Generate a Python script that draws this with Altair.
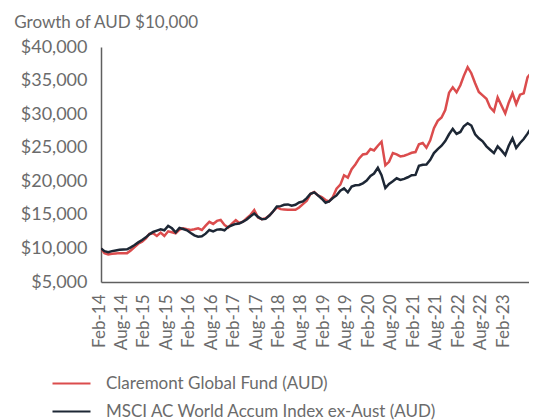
import altair as alt
import pandas as pd

series_names = ["Claremont Global Fund (AUD)", "MSCI AC World Accum Index ex-Aust (AUD)"]

claremont = [
    10000, 9300, 9100, 9200, 9250, 9300, 9300, 9300, 9700, 10200,
    10700, 11000, 11500, 12150, 12250, 11850, 12350, 11850, 12550, 12400,
    12250, 12800, 13000, 12850, 12750, 12850, 13000, 12750, 13400, 13950,
    13650, 14100, 14250, 13500, 13100, 13700, 14200, 13800, 14000, 14500,
    15000, 15700, 14600, 14350, 14500, 14900, 15500, 16100, 15850, 15800,
    15750, 15750, 15750, 16100, 16600, 17100, 18100, 18400, 17900, 17650,
    17200, 17000, 17650, 18900, 19500, 20900, 20550, 21800, 22500, 23400,
    24000, 24100, 24800, 24600, 25300, 25900, 22400, 22900, 24200, 24000,
    23700, 23800, 24000, 24250, 24350, 25500, 25700, 25000, 26100, 27900,
    29000, 29500, 30600, 33200, 34000, 33250, 34300, 35700, 37000, 36100,
    34600, 33300, 32800, 32300, 31000, 30400, 32500, 31300, 30100, 31700,
    33100, 31500, 32900, 33100, 35500, 36200, 37100,
]

msci = [
    10000, 9600, 9450, 9600, 9700, 9800, 9850, 9870, 10150, 10500,
    10900, 11250, 11650, 12100, 12450, 12650, 12850, 12700, 13350, 13000,
    12400, 13050, 12900, 12700, 12300, 11950, 11750, 11800, 12200, 12750,
    12550, 12800, 12850, 12700, 13200, 13450, 13650, 13700, 14000, 14300,
    14800, 15200, 14700, 14350, 14400, 14900, 15500, 16250, 16300, 16500,
    16550, 16350, 16500, 16850, 17000, 17500, 18150, 18350, 17900, 17400,
    16800, 17000, 17500, 17900, 18600, 18950, 18350, 19200, 19400, 19450,
    19700, 20100, 20800, 21150, 22000, 20900, 19000, 19600, 20000, 20450,
    20200, 20350, 20600, 20900, 20950, 22300, 22450, 22500, 23200, 24200,
    24800, 25300, 26000, 27000, 27800, 27050, 27350, 28200, 28650, 28300,
    27000, 26400, 25950, 25200, 24700, 24200, 25200, 24600, 23900, 25300,
    26400, 24950, 25700, 26300, 27100, 28000, 28700,
]

dates = pd.date_range("2014-02-01", periods=len(msci), freq="MS")
tick_dates = [d for d in dates if d.month in (2, 8) and d <= pd.Timestamp("2023-02-01")]
tick_ms = [int(d.value // 10**6) for d in tick_dates]
y_ticks = [5000, 10000, 15000, 20000, 25000, 30000, 35000, 40000]
# the picture is cropped at its right edge, part-way through the last months
x_start = pd.Timestamp("2014-02-01")
x_end = pd.Timestamp("2023-08-13")

df = pd.concat([
    pd.DataFrame({"date": dates.strftime("%Y-%m-%dT00:00:00Z"), "value": claremont, "series": series_names[0]}),
    pd.DataFrame({"date": dates.strftime("%Y-%m-%dT00:00:00Z"), "value": msci, "series": series_names[1]}),
], ignore_index=True)

FONT = "Lato"
TXT = "#6b6b6b"

chart = alt.Chart(df).mark_line(strokeWidth=2.5, clip=True).encode(
    x=alt.X(
        "date:T",
        scale=alt.Scale(type="utc", domain=[int(x_start.value // 10**6), int(x_end.value // 10**6)], nice=False),
        axis=alt.Axis(
            title=None, values=tick_ms, labelExpr="utcFormat(datum.value, '%b-%y')",
            labelAngle=270, labelAlign="right", labelBaseline="middle",
            labelPadding=12, labelOffset=-2, ticks=False, grid=False,
            labelFont=FONT, labelFontSize=17, labelColor=TXT,
            domainColor="#5f5f5f", domainWidth=1.5, labelOverlap=False,
        ),
    ),
    y=alt.Y(
        "value:Q",
        scale=alt.Scale(domain=[5000, 40000], nice=False),
        axis=alt.Axis(
            title=None, values=y_ticks, format="$,.0f", ticks=False, grid=False,
            labelFont=FONT, labelFontSize=18, labelColor=TXT, labelPadding=14,
            domainColor="#5f5f5f", domainWidth=1.5,
        ),
    ),
    color=alt.Color(
        "series:N",
        scale=alt.Scale(domain=series_names, range=["#db4c4d", "#1d2735"]),
        legend=alt.Legend(
            title=None, orient="none", legendX=-40, legendY=326, direction="vertical",
            symbolType="M-2,0H2", symbolSize=361, symbolStrokeWidth=2,
            labelFont=FONT, labelFontSize=17, labelColor=TXT, labelOffset=24,
            rowPadding=9, labelLimit=420,
        ),
    ),
).properties(
    width=428, height=235,
    padding={"left": 93, "top": 39, "right": 0, "bottom": 138},
    autosize=alt.AutoSizeParams(type="none"),
    title=alt.TitleParams(
        "Growth of AUD $10,000", anchor="start", frame="bounds", dx=-6, offset=6,
        font=FONT, fontSize=17, fontWeight="normal", color=TXT,
    ),
).configure_view(stroke=None)

chart.save("out.html", embed_options={"renderer": "svg", "actions": False})
